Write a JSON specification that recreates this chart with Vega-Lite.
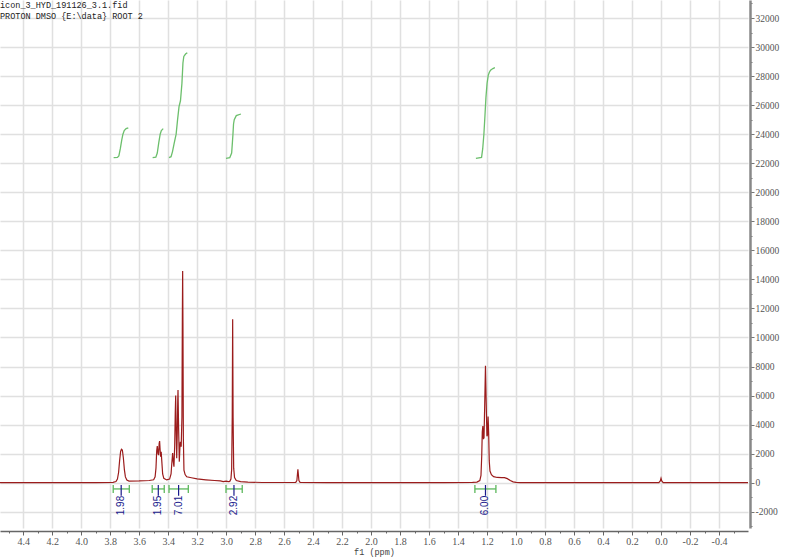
{
  "$schema": "https://vega.github.io/schema/vega-lite/v6.json",
  "width": 748,
  "height": 528,
  "autosize": "none",
  "padding": {"left": 0, "top": 0, "right": 52, "bottom": 30},
  "background": "white",
  "config": {"view": {"stroke": null}},
  "title": {
    "text": ["icon_3_HYD_191126_3.1.fid", "PROTON DMSO {E:\\data} ROOT 2"],
    "anchor": "start",
    "frame": "group",
    "orient": "top",
    "baseline": "top",
    "offset": -22,
    "font": "Liberation Mono",
    "fontSize": 8.5,
    "fontWeight": "normal",
    "color": "#222",
    "lineHeight": 11
  },
  "datasets": {
    "spectrum": [
      {"ppm": 4.56, "intensity": 0},
      {"ppm": 4.2, "intensity": 0},
      {"ppm": 3.9, "intensity": 10},
      {"ppm": 3.78, "intensity": 20},
      {"ppm": 3.76, "intensity": 80},
      {"ppm": 3.75, "intensity": 250},
      {"ppm": 3.742, "intensity": 700},
      {"ppm": 3.735, "intensity": 1500},
      {"ppm": 3.728, "intensity": 2150},
      {"ppm": 3.722, "intensity": 2300},
      {"ppm": 3.716, "intensity": 2250},
      {"ppm": 3.709, "intensity": 1700},
      {"ppm": 3.702, "intensity": 900},
      {"ppm": 3.695, "intensity": 400},
      {"ppm": 3.685, "intensity": 180},
      {"ppm": 3.67, "intensity": 110},
      {"ppm": 3.6, "intensity": 120},
      {"ppm": 3.53, "intensity": 150},
      {"ppm": 3.5, "intensity": 200},
      {"ppm": 3.49, "intensity": 400},
      {"ppm": 3.484, "intensity": 1000},
      {"ppm": 3.479, "intensity": 2200},
      {"ppm": 3.475, "intensity": 2530},
      {"ppm": 3.47, "intensity": 2000},
      {"ppm": 3.466, "intensity": 1900},
      {"ppm": 3.462, "intensity": 2700},
      {"ppm": 3.459, "intensity": 2870},
      {"ppm": 3.455, "intensity": 2200},
      {"ppm": 3.452, "intensity": 1790},
      {"ppm": 3.448, "intensity": 2130},
      {"ppm": 3.444, "intensity": 1500},
      {"ppm": 3.438, "intensity": 600},
      {"ppm": 3.43, "intensity": 300},
      {"ppm": 3.41, "intensity": 190},
      {"ppm": 3.39, "intensity": 250},
      {"ppm": 3.38, "intensity": 600},
      {"ppm": 3.375, "intensity": 1300},
      {"ppm": 3.369, "intensity": 2040},
      {"ppm": 3.365, "intensity": 1500},
      {"ppm": 3.36, "intensity": 1100},
      {"ppm": 3.355, "intensity": 2500},
      {"ppm": 3.351, "intensity": 4800},
      {"ppm": 3.348, "intensity": 6000},
      {"ppm": 3.345, "intensity": 3800},
      {"ppm": 3.341, "intensity": 1680},
      {"ppm": 3.337, "intensity": 3500},
      {"ppm": 3.334, "intensity": 5600},
      {"ppm": 3.332, "intensity": 6380},
      {"ppm": 3.328, "intensity": 3800},
      {"ppm": 3.323, "intensity": 1450},
      {"ppm": 3.319, "intensity": 2400},
      {"ppm": 3.316, "intensity": 2820},
      {"ppm": 3.31, "intensity": 2480},
      {"ppm": 3.305, "intensity": 4500},
      {"ppm": 3.302, "intensity": 11500},
      {"ppm": 3.3, "intensity": 14580},
      {"ppm": 3.298, "intensity": 11000},
      {"ppm": 3.295, "intensity": 3000},
      {"ppm": 3.291, "intensity": 870},
      {"ppm": 3.283, "intensity": 560},
      {"ppm": 3.272, "intensity": 410},
      {"ppm": 3.24, "intensity": 340},
      {"ppm": 3.2, "intensity": 260},
      {"ppm": 3.14, "intensity": 200},
      {"ppm": 3.08, "intensity": 150},
      {"ppm": 3.04, "intensity": 120},
      {"ppm": 3.02, "intensity": 70},
      {"ppm": 3.0, "intensity": 110},
      {"ppm": 2.985, "intensity": 80},
      {"ppm": 2.975, "intensity": 90},
      {"ppm": 2.967, "intensity": 250},
      {"ppm": 2.962, "intensity": 900},
      {"ppm": 2.958, "intensity": 4500},
      {"ppm": 2.955, "intensity": 11250},
      {"ppm": 2.952, "intensity": 4500},
      {"ppm": 2.948, "intensity": 1000},
      {"ppm": 2.942, "intensity": 350},
      {"ppm": 2.93, "intensity": 150},
      {"ppm": 2.9, "intensity": 80},
      {"ppm": 2.85, "intensity": 40},
      {"ppm": 2.75, "intensity": 15},
      {"ppm": 2.52, "intensity": 20},
      {"ppm": 2.512, "intensity": 150},
      {"ppm": 2.508, "intensity": 600},
      {"ppm": 2.505, "intensity": 920},
      {"ppm": 2.502, "intensity": 600},
      {"ppm": 2.498, "intensity": 150},
      {"ppm": 2.49, "intensity": 20},
      {"ppm": 2.3, "intensity": 0},
      {"ppm": 1.5, "intensity": 0},
      {"ppm": 1.3, "intensity": 20},
      {"ppm": 1.27, "intensity": 40},
      {"ppm": 1.25, "intensity": 150},
      {"ppm": 1.242, "intensity": 500},
      {"ppm": 1.237, "intensity": 1800},
      {"ppm": 1.233, "intensity": 3500},
      {"ppm": 1.229, "intensity": 3900},
      {"ppm": 1.225, "intensity": 3000},
      {"ppm": 1.221, "intensity": 3100},
      {"ppm": 1.216, "intensity": 5500},
      {"ppm": 1.211, "intensity": 8060},
      {"ppm": 1.206, "intensity": 5500},
      {"ppm": 1.201, "intensity": 3200},
      {"ppm": 1.197, "intensity": 3300},
      {"ppm": 1.193, "intensity": 4550},
      {"ppm": 1.189, "intensity": 3400},
      {"ppm": 1.185, "intensity": 1500},
      {"ppm": 1.18, "intensity": 800},
      {"ppm": 1.17, "intensity": 550},
      {"ppm": 1.155, "intensity": 420},
      {"ppm": 1.13, "intensity": 360},
      {"ppm": 1.1, "intensity": 350},
      {"ppm": 1.08, "intensity": 345},
      {"ppm": 1.06, "intensity": 280},
      {"ppm": 1.04, "intensity": 150},
      {"ppm": 1.02, "intensity": 60},
      {"ppm": 1.0, "intensity": 20},
      {"ppm": 0.97, "intensity": 0},
      {"ppm": 0.015, "intensity": 0},
      {"ppm": 0.005, "intensity": 120},
      {"ppm": 0.0, "intensity": 300},
      {"ppm": -0.005, "intensity": 120},
      {"ppm": -0.015, "intensity": 0},
      {"ppm": -0.6, "intensity": 0}
    ],
    "integrals": [
      {"id": 1, "ppm": 3.776, "intensity": 22380},
      {"id": 1, "ppm": 3.75, "intensity": 22400},
      {"id": 1, "ppm": 3.74, "intensity": 22500},
      {"id": 1, "ppm": 3.73, "intensity": 23000},
      {"id": 1, "ppm": 3.72, "intensity": 23600},
      {"id": 1, "ppm": 3.712, "intensity": 24000},
      {"id": 1, "ppm": 3.703, "intensity": 24250},
      {"id": 1, "ppm": 3.69, "intensity": 24380},
      {"id": 1, "ppm": 3.675, "intensity": 24440},
      {"id": 2, "ppm": 3.507, "intensity": 22380},
      {"id": 2, "ppm": 3.485, "intensity": 22420},
      {"id": 2, "ppm": 3.475, "intensity": 22700},
      {"id": 2, "ppm": 3.465, "intensity": 23400},
      {"id": 2, "ppm": 3.455, "intensity": 24000},
      {"id": 2, "ppm": 3.447, "intensity": 24250},
      {"id": 2, "ppm": 3.434, "intensity": 24380},
      {"id": 3, "ppm": 3.394, "intensity": 22380},
      {"id": 3, "ppm": 3.38, "intensity": 22450},
      {"id": 3, "ppm": 3.37, "intensity": 22800},
      {"id": 3, "ppm": 3.36, "intensity": 23300},
      {"id": 3, "ppm": 3.345, "intensity": 24000},
      {"id": 3, "ppm": 3.335, "intensity": 25000},
      {"id": 3, "ppm": 3.325, "intensity": 25900},
      {"id": 3, "ppm": 3.315, "intensity": 26300},
      {"id": 3, "ppm": 3.305, "intensity": 27500},
      {"id": 3, "ppm": 3.298, "intensity": 28900},
      {"id": 3, "ppm": 3.292, "intensity": 29350},
      {"id": 3, "ppm": 3.28, "intensity": 29520},
      {"id": 3, "ppm": 3.268, "intensity": 29610},
      {"id": 4, "ppm": 3.001, "intensity": 22340},
      {"id": 4, "ppm": 2.975, "intensity": 22380},
      {"id": 4, "ppm": 2.962, "intensity": 22700},
      {"id": 4, "ppm": 2.957, "intensity": 23400},
      {"id": 4, "ppm": 2.953, "intensity": 24000},
      {"id": 4, "ppm": 2.949, "intensity": 24700},
      {"id": 4, "ppm": 2.944, "intensity": 25000},
      {"id": 4, "ppm": 2.93, "intensity": 25280},
      {"id": 4, "ppm": 2.898, "intensity": 25390},
      {"id": 5, "ppm": 1.277, "intensity": 22340},
      {"id": 5, "ppm": 1.238, "intensity": 22400},
      {"id": 5, "ppm": 1.23, "intensity": 23000},
      {"id": 5, "ppm": 1.222, "intensity": 24000},
      {"id": 5, "ppm": 1.215, "intensity": 25200},
      {"id": 5, "ppm": 1.208, "intensity": 26500},
      {"id": 5, "ppm": 1.2, "intensity": 27500},
      {"id": 5, "ppm": 1.192, "intensity": 28050},
      {"id": 5, "ppm": 1.185, "intensity": 28250},
      {"id": 5, "ppm": 1.176, "intensity": 28400},
      {"id": 5, "ppm": 1.16, "intensity": 28520},
      {"id": 5, "ppm": 1.146, "intensity": 28580}
    ],
    "ranges": [
      {"from": 3.779, "to": 3.668, "center": 3.724, "label": "1.98"},
      {"from": 3.51, "to": 3.427, "center": 3.468, "label": "1.95"},
      {"from": 3.394, "to": 3.261, "center": 3.328, "label": "7.01"},
      {"from": 3.001, "to": 2.889, "center": 2.946, "label": "2.92"},
      {"from": 1.284, "to": 1.139, "center": 1.211, "label": "6.00"}
    ]
  },
  "layer": [
    {
      "data": {"name": "spectrum"},
      "mark": {"type": "line", "color": "#9b1c1c", "strokeWidth": 1.2, "clip": true},
      "encoding": {
        "x": {
          "field": "ppm",
          "type": "quantitative",
          "scale": {"domain": [-0.6, 4.56], "reverse": true, "nice": false, "zero": false},
          "axis": {
            "values": [4.5,4.4,4.3,4.2,4.1,4.0,3.9,3.8,3.7,3.6,3.5,3.4,3.3,3.2,3.1,3.0,2.9,2.8,2.7,2.6,2.5,2.4,2.3,2.2,2.1,2.0,1.9,1.8,1.7,1.6,1.5,1.4,1.3,1.2,1.1,1.0,0.9,0.8,0.7,0.6,0.5,0.4,0.3,0.2,0.1,0.0,-0.1,-0.2,-0.3,-0.4,-0.5],
            "tickCount": 200,
            "labelExpr": "abs(round(datum.value*10)) % 2 == 0 ? replace(format(datum.value, '.1f'), '\u2212', '-') : ''",
            "labelOverlap": false,
            "tickSize": {"condition": {"test": "abs(round(datum.value*10)) % 2 == 0", "value": 4}, "value": 2},
            "grid": true,
            "gridColor": "#e0e0e0",
            "gridWidth": 1.5,
            "gridOpacity": {"condition": {"test": "abs(round(datum.value*10)) % 2 == 0", "value": 1}, "value": 0},
            "domainColor": "#666",
            "domainWidth": 1.5,
            "tickColor": "#666",
            "labelFont": "Liberation Serif",
            "labelFontSize": 10,
            "labelColor": "#555",
            "labelPadding": 1,
            "offset": 3,
            "title": "f1 (ppm)",
            "titleFont": "Liberation Mono",
            "titleFontSize": 8.5,
            "titleFontWeight": "normal",
            "titleColor": "#444",
            "titleY": 20,
            "titleBaseline": "middle"
          }
        },
        "y": {
          "field": "intensity",
          "type": "quantitative",
          "scale": {"domain": [-3120, 33240], "nice": false, "zero": false},
          "axis": {
            "orient": "right",
            "values": [-3000,-2000,-1000,0,1000,2000,3000,4000,5000,6000,7000,8000,9000,10000,11000,12000,13000,14000,15000,16000,17000,18000,19000,20000,21000,22000,23000,24000,25000,26000,27000,28000,29000,30000,31000,32000,33000],
            "tickCount": 200,
            "labelExpr": "datum.value % 2000 == 0 ? replace(format(datum.value, 'd'), '\u2212', '-') : ''",
            "labelOverlap": false,
            "tickSize": {"condition": {"test": "datum.value % 2000 == 0", "value": 4}, "value": 2},
            "grid": true,
            "gridColor": "#e0e0e0",
            "gridWidth": 1.5,
            "gridOpacity": {"condition": {"test": "datum.value % 2000 == 0", "value": 1}, "value": 0},
            "domainColor": "#888",
            "domainWidth": 2.5,
            "tickColor": "#777",
            "labelFont": "Liberation Serif",
            "labelFontSize": 9.5,
            "labelColor": "#555",
            "labelPadding": 1,
            "offset": 2,
            "title": null
          }
        }
      }
    },
    {
      "data": {"name": "integrals"},
      "mark": {"type": "line", "color": "#6cbf6c", "strokeWidth": 1.3},
      "encoding": {
        "x": {"field": "ppm", "type": "quantitative"},
        "y": {"field": "intensity", "type": "quantitative"},
        "detail": {"field": "id", "type": "nominal"}
      }
    },
    {
      "data": {"name": "ranges"},
      "mark": {"type": "rule", "color": "#5cb85c", "strokeWidth": 1.3},
      "encoding": {
        "x": {"field": "from", "type": "quantitative"},
        "x2": {"field": "to"},
        "y": {"datum": -430, "type": "quantitative"}
      }
    },
    {
      "data": {"name": "ranges"},
      "mark": {"type": "rule", "color": "#5cb85c", "strokeWidth": 1.3},
      "encoding": {
        "x": {"field": "from", "type": "quantitative"},
        "y": {"datum": -160, "type": "quantitative"},
        "y2": {"datum": -710}
      }
    },
    {
      "data": {"name": "ranges"},
      "mark": {"type": "rule", "color": "#5cb85c", "strokeWidth": 1.3},
      "encoding": {
        "x": {"field": "to", "type": "quantitative"},
        "y": {"datum": -160, "type": "quantitative"},
        "y2": {"datum": -710}
      }
    },
    {
      "data": {"name": "ranges"},
      "mark": {"type": "rule", "color": "#1a1a8c", "strokeWidth": 1.2},
      "encoding": {
        "x": {"field": "center", "type": "quantitative"},
        "y": {"datum": -160, "type": "quantitative"},
        "y2": {"datum": -900}
      }
    },
    {
      "data": {"name": "ranges"},
      "mark": {"type": "text", "color": "#1a1a8c", "angle": 270, "align": "center", "baseline": "middle", "font": "Liberation Sans", "fontSize": 10},
      "encoding": {
        "x": {"field": "center", "type": "quantitative"},
        "y": {"datum": -1570, "type": "quantitative"},
        "text": {"field": "label", "type": "nominal"}
      }
    }
  ]
}
